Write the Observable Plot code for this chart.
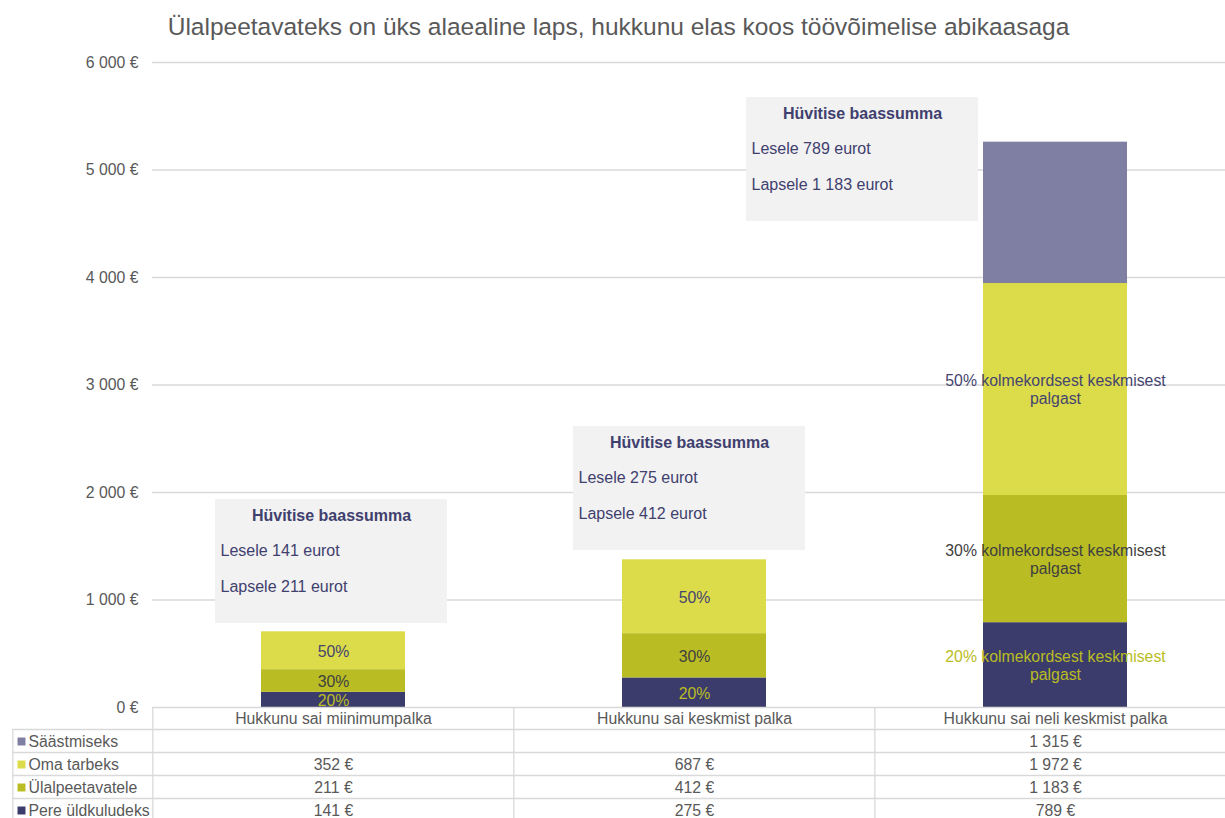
<!DOCTYPE html>
<html><head><meta charset="utf-8">
<script src="https://cdn.jsdelivr.net/npm/d3@7"></script>
<script src="https://cdn.jsdelivr.net/npm/@observablehq/plot@0.6"></script>
<style>
html,body{margin:0;padding:0;background:#fff;overflow:hidden;}
svg{max-width:none !important;height:818px !important;}
</style></head><body><div id="chart"></div>
<script>
// ---- data ----
const title = "Ülalpeetavateks on üks alaealine laps, hukkunu elas koos töövõimelise abikaasaga";
const categories = ["Hukkunu sai miinimumpalka", "Hukkunu sai keskmist palka", "Hukkunu sai neli keskmist palka"];
const series = ["Pere üldkuludeks", "Ülalpeetavatele", "Oma tarbeks", "Säästmiseks"]; // stack bottom -> top
const pereUldkuludeks = [141, 275, 789];
const ulalpeetavatele = [211, 412, 1183];
const omaTarbeks = [352, 687, 1972];
const saastmiseks = [null, null, 1315];
const labelsPere = ["20%", "20%", "20% kolmekordsest keskmisest\npalgast"];
const labelsUlal = ["30%", "30%", "30% kolmekordsest keskmisest\npalgast"];
const labelsOma = ["50%", "50%", "50% kolmekordsest keskmisest\npalgast"];
const yTicks = [0, 1000, 2000, 3000, 4000, 5000, 6000];
const boxTitle = "Hüvitise baassumma";
const boxLesele = ["Lesele 141 eurot", "Lesele 275 eurot", "Lesele 789 eurot"];
const boxLapsele = ["Lapsele 211 eurot", "Lapsele 412 eurot", "Lapsele 1 183 eurot"];

// ---- layout / style ----
const colors = ["#3c3c6c", "#b9bd23", "#dcdb4a", "#7f7fa3"];
const labelColors = ["#b9bd23", "#404040", "#45456f"];
const boxLayout = [ // euro extents of annotation boxes and pixel shift
  {y1: 781, y2: 1935, dx: -2},
  {y1: 1460, y2: 2614, dx: -5},
  {y1: 4521, y2: 5674, dx: -193}
];
const W = 1236, H = 818, ML = 152, MT = 62, MB = 111;
const step = (W - ML) / 3;
const font = "'Liberation Sans', Arial, sans-serif";
const gray = "#595959";
const lineC = "#d9d9d9";
const fs = 15.8;

const seriesValues = [pereUldkuludeks, ulalpeetavatele, omaTarbeks, saastmiseks];
const seriesLabels = [labelsPere, labelsUlal, labelsOma, [null, null, null]];
const rows = [];
series.forEach((s, si) => categories.forEach((c, ci) => {
  const v = seriesValues[si][ci];
  if (v != null) rows.push({category: c, series: s, value: v, label: seriesLabels[si][ci]});
}));

const fmt = v => v == null ? "" : d3.format(",")(v).replace(/,/g, " ") + " €";

const marks = [];
// gridlines
marks.push(Plot.ruleY(yTicks.slice(1), {stroke: lineC, strokeWidth: 1.3}));
// annotation boxes
boxLayout.forEach((b, i) => {
  marks.push(Plot.rectY([categories[i]], {x: d => d, y1: () => b.y1, y2: () => b.y2, fill: "#f2f2f2",
    insetLeft: -44, insetRight: -44, dx: b.dx}));
});
// bars
marks.push(Plot.barY(rows, Plot.stackY({x: "category", y: "value", fill: "series", order: series})));
// segment labels (stack all rows, show text only for one series per mark)
series.slice(0, 3).forEach((s, si) => {
  marks.push(Plot.text(rows, Plot.stackY({x: "category", y: "value", z: "series", order: series,
    text: d => d.series === s ? d.label : null, fill: labelColors[si], fontSize: fs, lineHeight: 1.15})));
});
// box texts
boxLayout.forEach((b, i) => {
  marks.push(Plot.text([boxTitle], {x: () => categories[i], y: () => b.y2, dy: 16, dx: b.dx,
    fontWeight: "bold", fontSize: 16, fill: "#40406e"}));
  marks.push(Plot.text([boxLesele[i]], {x: () => categories[i], y: () => b.y2, dy: 51, dx: b.dx - 111,
    textAnchor: "start", fontSize: 16, fill: "#40406e"}));
  marks.push(Plot.text([boxLapsele[i]], {x: () => categories[i], y: () => b.y2, dy: 87, dx: b.dx - 111,
    textAnchor: "start", fontSize: 16, fill: "#40406e"}));
});
// y axis
marks.push(Plot.axisY(yTicks, {tickSize: 0, tickPadding: 14, tickFormat: fmt, fontSize: fs, fill: gray, label: null}));
// title
marks.push(Plot.text([title], {frameAnchor: "top-left", dx: 618 - ML, dy: -35, textAnchor: "middle",
  lineAnchor: "middle", fontSize: 24.5, fill: gray}));

// ---- data table below the plot ----
const tableRowsDy = [11, 34, 57, 80, 103];
marks.push(Plot.ruleY([0], {stroke: lineC, strokeWidth: 1.3}));
[22, 45, 68, 91].forEach(dy => marks.push(Plot.ruleY([0], {dy, insetLeft: -140, stroke: lineC, strokeWidth: 1.3})));
marks.push(Plot.ruleX(categories, {x: d => d, dx: -step / 2, insetTop: H - MT - MB, insetBottom: -MB, stroke: lineC, strokeWidth: 1.3}));
marks.push(Plot.ruleX([categories[0]], {x: d => d, dx: -step / 2 - 140, insetTop: H - MT - MB + 22, insetBottom: -MB, stroke: lineC, strokeWidth: 1.3}));
marks.push(Plot.text(categories, {x: d => d, frameAnchor: "bottom", dy: tableRowsDy[0], lineAnchor: "middle", fontSize: fs, fill: gray}));
const tableOrder = [3, 2, 1, 0];
tableOrder.forEach((si, r) => {
  const dy = tableRowsDy[r + 1];
  marks.push(Plot.dot([series[si]], {frameAnchor: "bottom-left", dx: 21 - ML, dy, symbol: "square", r: 4.5, fill: colors[si], stroke: null}));
  marks.push(Plot.text([series[si]], {frameAnchor: "bottom-left", dx: 28 - ML, dy, textAnchor: "start", lineAnchor: "middle", fontSize: fs, fill: gray}));
  marks.push(Plot.text(categories.map((c, ci) => ({c, v: seriesValues[si][ci]})).filter(d => d.v != null),
    {x: "c", text: d => fmt(d.v), frameAnchor: "bottom", dy, lineAnchor: "middle", fontSize: fs, fill: gray}));
});

const chart = Plot.plot({
  width: W, height: H,
  marginLeft: ML, marginRight: 0, marginTop: MT, marginBottom: MB,
  style: {fontFamily: font, fontSize: fs + "px", background: "#fff", overflow: "visible", maxWidth: "none"},
  x: {domain: categories, paddingInner: 0.6, paddingOuter: 0.3, axis: null},
  y: {domain: [0, 6000], axis: null},
  color: {domain: series, range: colors},
  marks
});
document.getElementById("chart").appendChild(chart);
</script>
</body></html>
